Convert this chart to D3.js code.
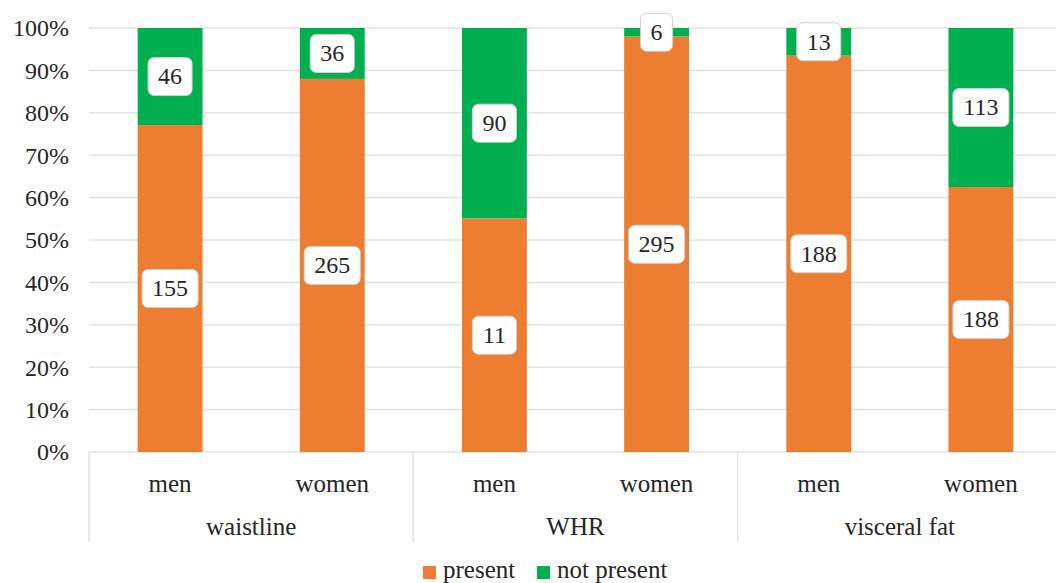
<!DOCTYPE html>
<html><head><meta charset="utf-8">
<script src="https://cdn.jsdelivr.net/npm/d3@7"></script>
<style>html,body{margin:0;padding:0;background:#fff;overflow:hidden}
svg text{font-family:"Liberation Serif","Tinos","Noto Serif","DejaVu Serif","Nimbus Roman","FreeSerif","Times New Roman",Times,serif;}</style>
</head><body>
<svg id="c" width="1056" height="583"></svg>
<script>
const groups = ["waistline", "WHR", "visceral fat"];
const subcats = ["men", "women"];
// percent share of "present"
const presentPct = [77.1, 88.0, 55.1, 98.0, 93.5, 62.5];
// data labels as printed
const presentLabels = ["155", "265", "11", "295", "188", "188"];
const notPresentLabels = ["46", "36", "90", "6", "13", "113"];
const seriesNames = ["present", "not present"];
const colors = ["#ED7D31", "#00B050"];
const yTicks = [0,10,20,30,40,50,60,70,80,90,100];

(function(){
const svg = d3.select("#c");
const mLeft = 89, mRight = 1062, mTop = 28, mBottom = 452;
const txt = "#262626";

const rows = [];
groups.forEach((g, gi) => subcats.forEach((s, si) => {
  const i = gi * subcats.length + si;
  rows.push({key: g + "|" + s, group: g, sub: s, present: presentPct[i], notPresent: 100 - presentPct[i],
             labels: [presentLabels[i], notPresentLabels[i]]});
}));

const x = d3.scaleBand().domain(rows.map(r => r.key)).range([mLeft, mRight]).paddingInner(0.6).paddingOuter(0.3);
const xg = d3.scaleBand().domain(groups).range([mLeft, mRight]);
const y = d3.scaleLinear().domain([0, 100]).range([mBottom, mTop]);

// gridlines
svg.append("g").selectAll("line").data(yTicks).join("line")
  .attr("x1", mLeft).attr("x2", mRight)
  .attr("y1", d => y(d)).attr("y2", d => y(d))
  .attr("stroke", "#e3e3e3").attr("stroke-width", 1.5);

// y axis labels
const yAxis = d3.axisLeft(y).tickValues(yTicks).tickFormat(d => d + "%").tickSize(0).tickPadding(0);
const ya = svg.append("g").attr("transform", `translate(69,0)`).call(yAxis);
ya.select(".domain").remove();
ya.attr("font-family", null);
ya.selectAll("text").attr("font-size", 24).attr("fill", txt).attr("dy", "0.33em");

// stacked bars
const stack = d3.stack().keys(["present", "notPresent"]);
const series = stack(rows);
series.forEach((ser, si) => {
  svg.append("g").selectAll("rect").data(ser).join("rect")
    .attr("x", d => x(d.data.key)).attr("width", x.bandwidth())
    .attr("y", d => y(d[1])).attr("height", d => y(d[0]) - y(d[1]))
    .attr("fill", colors[si]);
});

// data labels
series.forEach((ser, si) => {
  const g = svg.append("g").selectAll("g").data(ser).join("g")
    .attr("transform", d => `translate(${x(d.data.key) + x.bandwidth()/2},${(y(d[0]) + y(d[1]))/2})`);
  g.each(function(d) {
    const t = d.data.labels[si];
    const w = t.length * 12 + 20;
    d3.select(this).append("rect").attr("x", -w/2).attr("y", -19).attr("width", w).attr("height", 38)
      .attr("rx", 6).attr("fill", "#fff").attr("stroke", "#d0d0d0").attr("stroke-width", 1);
    d3.select(this).append("text").attr("text-anchor", "middle").attr("dy", "0.33em")
      .attr("font-size", 24).attr("fill", txt).text(t);
  });
});

// category axis: dividers
const divX = groups.map(g => xg(g)).concat([mRight]);
svg.append("g").selectAll("line").data(divX).join("line")
  .attr("x1", d => d).attr("x2", d => d).attr("y1", mBottom).attr("y2", 542)
  .attr("stroke", "#e3e3e3").attr("stroke-width", 1.5);

svg.append("g").selectAll("text").data(rows).join("text")
  .attr("x", d => x(d.key) + x.bandwidth()/2).attr("y", 492)
  .attr("text-anchor", "middle").attr("font-size", 25).attr("fill", txt)
  .text(d => d.sub);

svg.append("g").selectAll("text").data(groups).join("text")
  .attr("x", d => xg(d) + xg.bandwidth()/2).attr("y", 535)
  .attr("text-anchor", "middle").attr("font-size", 25).attr("fill", txt)
  .text(d => d);

// legend
const legX = [423, 537];
const lg = svg.append("g").selectAll("g").data(seriesNames).join("g")
  .attr("transform", (d, i) => `translate(${legX[i]},566)`);
lg.append("rect").attr("width", 13).attr("height", 13).attr("fill", (d, i) => colors[i]);
lg.append("text").attr("x", 20).attr("y", 12).attr("font-size", 25).attr("fill", txt).text(d => d);
})();
</script>
</body></html>
